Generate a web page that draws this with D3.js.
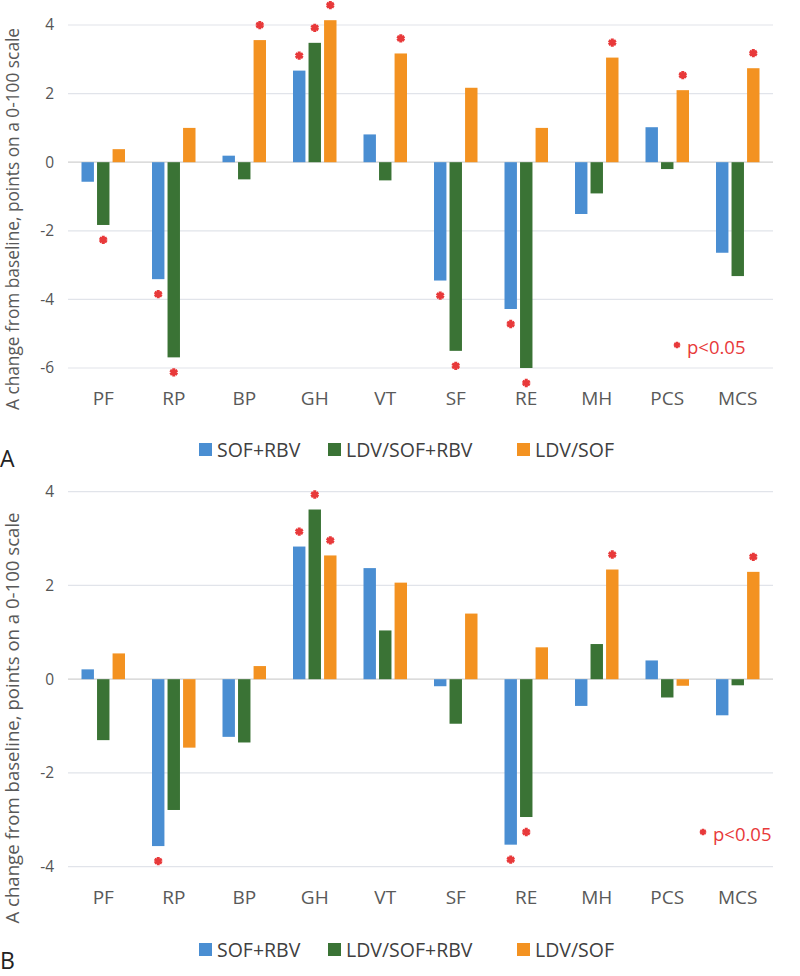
<!DOCTYPE html>
<html><head><meta charset="utf-8">
<script src="https://cdn.jsdelivr.net/npm/d3@7"></script>
<style>body{margin:0;background:#fff}svg{display:block}text{font-family:"Open Sans",sans-serif}</style>
</head><body><svg id="c" width="800" height="976"></svg>
<script>
const categories = ["PF","RP","BP","GH","VT","SF","RE","MH","PCS","MCS"];
const seriesNames = ["SOF+RBV","LDV/SOF+RBV","LDV/SOF"];
const colors = ["#4a8ed2","#3a7335","#f39221"];

// Panel A values
const aSofRbv    = [-0.57,-3.41, 0.19, 2.67, 0.81,-3.45,-4.28,-1.51, 1.02,-2.64];
const aLdvSofRbv = [-1.83,-5.69,-0.50, 3.48,-0.53,-5.50,-6.00,-0.91,-0.20,-3.32];
const aLdvSof    = [ 0.38, 1.00, 3.56, 4.14, 3.17, 2.17, 1.00, 3.05, 2.10, 2.74];
const aSigSofRbv    = [0,1,0,1,0,1,1,0,0,0];
const aSigLdvSofRbv = [1,1,0,1,0,1,1,0,0,0];
const aSigLdvSof    = [0,0,1,1,1,0,0,1,1,1];
const aTicks = [-6,-4,-2,0,2,4];

// Panel B values
const bSofRbv    = [ 0.21,-3.56,-1.23, 2.83, 2.37,-0.15,-3.53,-0.57, 0.40,-0.77];
const bLdvSofRbv = [-1.30,-2.79,-1.35, 3.62, 1.04,-0.95,-2.94, 0.75,-0.39,-0.13];
const bLdvSof    = [ 0.55,-1.46, 0.28, 2.64, 2.06, 1.40, 0.68, 2.34,-0.14, 2.29];
const bSigSofRbv    = [0,1,0,1,0,0,1,0,0,0];
const bSigLdvSofRbv = [0,0,0,1,0,0,1,0,0,0];
const bSigLdvSof    = [0,0,0,1,0,0,0,1,0,1];
const bTicks = [-4,-2,0,2,4];

const yTitle = "A change from baseline, points on a 0-100 scale";
const sigNote = "p<0.05";

const svg = d3.select("#c");
const x = d3.scaleBand().domain(categories).range([68,773]);
const xs = d3.scaleBand().domain(d3.range(3)).range([0,43.5]).paddingInner(0.2);

function panel(o){
  const y = d3.scaleLinear().domain(o.domain).range(o.range);
  const g = svg.append("g");
  g.selectAll("line.grid").data(o.ticks).join("line")
    .attr("x1",68).attr("x2",773).attr("y1",d=>y(d)).attr("y2",d=>y(d))
    .attr("stroke",d=>d===0?"#d0d0d0":"#e1e4ea").attr("stroke-width",1.2);
  const ax = g.append("g").attr("transform","translate(54,0)")
    .call(d3.axisLeft(y).tickValues(o.ticks).tickSize(0).tickPadding(0).tickFormat(d3.format("d")));
  ax.select(".domain").remove();
  ax.selectAll("text").attr("font-family","'Open Sans',sans-serif").attr("font-size",15.5).attr("fill","#555")
    .text(d=>String(d));
  const series = o.values;
  series.forEach((vals,si)=>{
    g.selectAll(null).data(vals).join("rect")
      .attr("x",(d,i)=>x(categories[i])+(x.bandwidth()-43.5)/2+xs(si))
      .attr("width",xs.bandwidth())
      .attr("y",d=>Math.min(y(d),y(0)))
      .attr("height",d=>Math.abs(y(d)-y(0)))
      .attr("fill",colors[si]);
    const sym = d3.symbol(d3.symbolAsterisk,48);
    g.selectAll(null).data(vals.map((v,i)=>({v,i,s:o.sig[si][i]})).filter(d=>d.s)).join("path")
      .attr("d",sym)
      .attr("transform",d=>`translate(${x(categories[d.i])+(x.bandwidth()-43.5)/2+xs(si)+xs.bandwidth()/2},${y(d.v)+(d.v<0?15:-15)})`)
      .attr("stroke","#e8393a").attr("stroke-width",3).attr("fill","none");
  });
  const cx = g.append("g").attr("transform",`translate(0,${o.catY})`)
    .call(d3.axisBottom(x).tickSize(0).tickPadding(0));
  cx.select(".domain").remove();
  cx.selectAll("text").attr("font-family","'Open Sans',sans-serif").attr("font-size",19).attr("fill","#595959").attr("dy","0.35em");
  g.append("text").attr("transform",`translate(${o.titleX},${o.titleY}) rotate(-90)`)
    .attr("text-anchor","middle").attr("font-size",o.titleSize).attr("fill","#595959").text(yTitle);
  const pn = g.append("g").attr("transform",`translate(${o.noteX},${o.noteY})`);
  pn.append("path").attr("d",d3.symbol(d3.symbolAsterisk,30)).attr("stroke","#e8393a").attr("stroke-width",2.4).attr("transform","translate(0,-9)");
  pn.append("text").attr("x",10).attr("y",0).attr("font-size",18.5).attr("fill","#e8393a").text(sigNote);
  const legX = [199,328,517];
  seriesNames.forEach((n,si)=>{
    g.append("rect").attr("x",legX[si]).attr("y",o.legY-7).attr("width",13).attr("height",13).attr("fill",colors[si]);
    g.append("text").attr("x",legX[si]+18).attr("y",o.legY).attr("dy","0.35em").attr("font-size",19.5).attr("fill","#404040").text(n);
  });
  g.append("text").attr("x",0).attr("y",o.letterY).attr("font-size",23).attr("fill","#222").text(o.letter);
}

panel({domain:[-6,4],range:[368,25],ticks:aTicks,
  values:[aSofRbv,aLdvSofRbv,aLdvSof],sig:[aSigSofRbv,aSigLdvSofRbv,aSigLdvSof],
  catY:398,titleX:19,titleY:219,titleSize:17.3,noteX:677,noteY:354,legY:450,letter:"A",letterY:467});
panel({domain:[-4,4],range:[866.7,491.7],ticks:bTicks,
  values:[bSofRbv,bLdvSofRbv,bLdvSof],sig:[bSigSofRbv,bSigLdvSofRbv,bSigLdvSof],
  catY:897,titleX:19,titleY:718,titleSize:18.6,noteX:703,noteY:841,legY:950,letter:"B",letterY:969});
</script></body></html>
